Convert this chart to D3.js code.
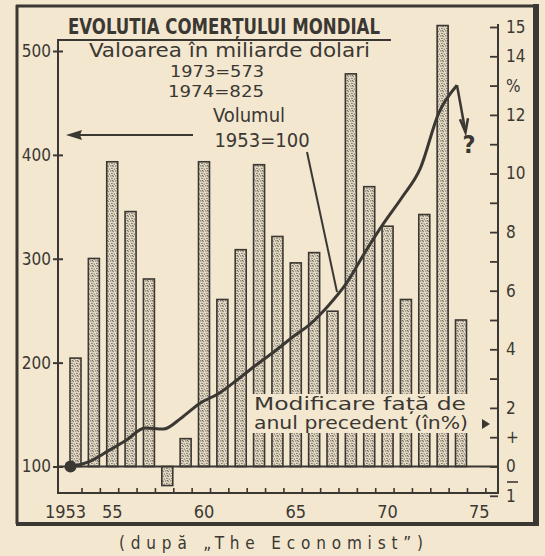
<!doctype html>
<html>
<head>
<meta charset="utf-8">
<script src="https://d3js.org/d3.v7.min.js"></script>
<style>
  body { margin: 0; background: #f3e7d0; }
  svg { display: block; }
  text { fill: #3b3833; font-family: "DejaVu Sans Condensed", "Liberation Sans Narrow", sans-serif; }
</style>
</head>
<body>
<svg width="545" height="556"></svg>
<script>
// years on the x axis (bars = change vs previous year, line = volume index)
const years = [1953, 1954, 1955, 1956, 1957, 1958, 1959, 1960, 1961, 1962, 1963,
               1964, 1965, 1966, 1967, 1968, 1969, 1970, 1971, 1972, 1973, 1974];
const changePct = [3.7, 7.1, 10.4, 8.7, 6.4, -0.65, 0.95, 10.4, 5.7, 7.4, 10.3,
                   7.85, 6.95, 7.3, 5.3, 13.4, 9.55, 8.2, 5.7, 8.6, 15.05, 5.0];
const volumeIdx = [100, 105, 115, 125.5, 137, 136, 147, 161, 170, 183, 197,
                   210, 224, 237, 255, 277, 306.5, 334, 359, 387, 440, 467];

const leftTicks = [100, 200, 300, 400, 500];
const rightTicks = [-1, 0, 1, 2, 3, 4, 5, 6, 7, 8, 9, 10, 11, 12, 13, 14, 15];
const rightLabels = {"-1": "1", 0: "0", 1: "+", 2: "2", 4: "4", 6: "6", 8: "8",
                     10: "10", 12: "12", 13: "%", 14: "14", 15: "15"};
const xTickYears = [1953, 1954, 1955, 1956, 1957, 1958, 1959, 1960, 1961, 1962, 1963, 1964,
                    1965, 1966, 1967, 1968, 1969, 1970, 1971, 1972, 1973, 1974, 1975];
const xLabelYears = [1953, 1955, 1960, 1965, 1970, 1975];
const xLabelText = ["1953", "55", "60", "65", "70", "75"];

const ink = "#3b3833";
const paper = "#f3e7d0";

const svg = d3.select("svg");

const x = d3.scaleLinear().domain([1953, 1974]).range([75.5, 461]);
const yL = d3.scaleLinear().domain([100, 500]).range([466.5, 51]);
const yR = d3.scaleLinear().domain([0, 15]).range([466.5, 27]);

// stipple pattern for the bars
const defs = svg.append("defs");
const pat = defs.append("pattern")
  .attr("id", "stip")
  .attr("patternUnits", "userSpaceOnUse")
  .attr("width", 5).attr("height", 5);
pat.append("rect").attr("width", 5).attr("height", 5).attr("fill", "#e6dcc6");
[[0.8, 0.9], [3.2, 1.6], [1.9, 3.4], [4.3, 4.1], [2.6, 0.2]].forEach(p => {
  pat.append("circle").attr("cx", p[0]).attr("cy", p[1]).attr("r", 0.7).attr("fill", "#615b52");
});

// outer frame
svg.append("line").attr("x1", 17).attr("y1", 5).attr("x2", 17).attr("y2", 524)
  .attr("stroke", ink).attr("stroke-width", 3);
svg.append("line").attr("x1", 16).attr("y1", 6).attr("x2", 538).attr("y2", 6)
  .attr("stroke", ink).attr("stroke-width", 3);
svg.append("line").attr("x1", 536).attr("y1", 4).attr("x2", 536).attr("y2", 526)
  .attr("stroke", ink).attr("stroke-width", 6);
svg.append("line").attr("x1", 16).attr("y1", 524).attr("x2", 539).attr("y2", 524)
  .attr("stroke", ink).attr("stroke-width", 4);

// bars
const barW = 11;
svg.append("g").selectAll("rect")
  .data(years.map((yr, i) => ({yr, v: changePct[i]})))
  .join("rect")
    .attr("x", d => x(d.yr) - barW / 2)
    .attr("width", barW)
    .attr("y", d => Math.min(yR(d.v), yR(0)))
    .attr("height", d => Math.abs(yR(d.v) - yR(0)))
    .attr("fill", "url(#stip)")
    .attr("stroke", ink)
    .attr("stroke-width", 1.6);

// paper band behind the bar label
svg.append("rect").attr("x", 249).attr("y", 394).attr("width", 224).attr("height", 39)
  .attr("fill", paper);

// inner frame / axes
const g = svg.append("g").attr("stroke", ink).attr("stroke-width", 2);
g.append("line").attr("x1", 58).attr("y1", 40).attr("x2", 58).attr("y2", 494);
g.append("line").attr("x1", 57).attr("y1", 493).attr("x2", 499).attr("y2", 493);
g.append("line").attr("x1", 498).attr("y1", 24).attr("x2", 498).attr("y2", 494);
g.append("line").attr("x1", 57).attr("y1", 40).attr("x2", 391).attr("y2", 40);
g.append("line").attr("x1", 58).attr("y1", yR(0)).attr("x2", 498).attr("y2", yR(0));

// left axis
const axL = svg.append("g").attr("transform", "translate(58,0)")
  .call(d3.axisLeft(yL).tickValues(leftTicks).tickSize(5).tickPadding(2));
axL.select(".domain").remove();
axL.selectAll(".tick line").attr("x1", 5).attr("x2", -5).attr("stroke", ink).attr("stroke-width", 2);
axL.selectAll(".tick text").attr("font-size", 17).attr("fill", ink)
  .attr("font-family", "DejaVu Sans Condensed, sans-serif");

// right axis
const axR = svg.append("g").attr("transform", "translate(498,0)")
  .call(d3.axisRight(yR).tickValues(rightTicks).tickSizeInner(-8).tickSizeOuter(0).tickPadding(8)
    .tickFormat(d => rightLabels[d] || ""));
axR.select(".domain").remove();
axR.selectAll(".tick line").attr("stroke", ink).attr("stroke-width", 1.8);
axR.selectAll(".tick text").attr("font-size", 17).attr("fill", ink)
  .attr("font-family", "DejaVu Sans Condensed, sans-serif");
svg.append("line").attr("x1", 507).attr("x2", 518).attr("y1", 482).attr("y2", 482)
  .attr("stroke", ink).attr("stroke-width", 1.6);

// bottom axis
const axB = svg.append("g").attr("transform", "translate(6,493)")
  .call(d3.axisBottom(x).tickValues(xTickYears).tickSizeInner(-5).tickSizeOuter(0).tickFormat(""));
axB.select(".domain").remove();
axB.selectAll(".tick line").attr("stroke", ink).attr("stroke-width", 1.6);
svg.append("g").selectAll("text")
  .data(xLabelYears.map((yr, i) => ({yr, t: xLabelText[i]})))
  .join("text")
    .attr("x", d => x(d.yr) + (d.yr === 1953 ? -10 : 0))
    .attr("y", 518)
    .attr("text-anchor", "middle")
    .attr("font-size", 18)
    .text(d => d.t);

// volume line
const lineData = years.map((yr, i) => ({yr, v: volumeIdx[i]}));
const line = d3.line()
  .x(d => x(d.yr) - 4)
  .y(d => yL(d.v))
  .curve(d3.curveMonotoneX);
svg.append("path").datum(lineData)
  .attr("d", line)
  .attr("fill", "none")
  .attr("stroke", ink)
  .attr("stroke-width", 3)
  .attr("stroke-linejoin", "round");
svg.append("circle").attr("cx", x(1953) - 5).attr("cy", yL(100)).attr("r", 6).attr("fill", ink);

// arrow from the last point down to the "?"
const last = lineData[lineData.length - 1];
const lx = x(last.yr) - 4, ly = yL(last.v);
svg.append("path")
  .attr("d", `M${lx},${ly} L${lx + 8},${ly + 44}`)
  .attr("stroke", ink).attr("stroke-width", 2.5).attr("fill", "none");
svg.append("path")
  .attr("d", `M${lx + 3},${ly + 34} L${lx + 8.5},${ly + 47} L${lx + 11},${ly + 33}`)
  .attr("stroke", ink).attr("stroke-width", 2.5).attr("fill", "none");
svg.append("text").attr("x", 469).attr("y", 153).attr("text-anchor", "middle")
  .attr("font-size", 25).attr("font-weight", "bold").text("?");

// texts
svg.append("text").attr("x", 68).attr("y", 34)
  .attr("font-size", 22).attr("font-weight", "bold")
  .attr("textLength", 312).attr("lengthAdjust", "spacingAndGlyphs")
  .text("EVOLUTIA COMERȚULUI MONDIAL");
svg.append("text").attr("x", 89).attr("y", 57)
  .attr("font-size", 19)
  .attr("textLength", 281).attr("lengthAdjust", "spacingAndGlyphs")
  .text("Valoarea în miliarde dolari");
svg.append("text").attr("x", 170).attr("y", 77)
  .attr("font-size", 16).attr("textLength", 94).attr("lengthAdjust", "spacingAndGlyphs")
  .text("1973=573");
svg.append("text").attr("x", 168).attr("y", 97)
  .attr("font-size", 16).attr("textLength", 96).attr("lengthAdjust", "spacingAndGlyphs")
  .text("1974=825");
svg.append("text").attr("x", 249).attr("y", 122).attr("text-anchor", "middle")
  .attr("font-size", 20).text("Volumul");
svg.append("text").attr("x", 262).attr("y", 147).attr("text-anchor", "middle")
  .attr("font-size", 20).text("1953=100");

// left arrow
svg.append("line").attr("x1", 193).attr("y1", 135).attr("x2", 75).attr("y2", 135)
  .attr("stroke", ink).attr("stroke-width", 1.8);
svg.append("path").attr("d", "M66,135 L82,130 L80,135 L82,140 Z").attr("fill", ink);

// pointer from "Volumul" to the line
svg.append("line").attr("x1", 307).attr("y1", 152).attr("x2", 337).attr("y2", 292)
  .attr("stroke", ink).attr("stroke-width", 2);

// bar label
svg.append("text").attr("x", 254).attr("y", 410)
  .attr("font-size", 17).attr("textLength", 212).attr("lengthAdjust", "spacingAndGlyphs")
  .text("Modificare față de");
svg.append("text").attr("x", 254).attr("y", 429)
  .attr("font-size", 17).attr("textLength", 214).attr("lengthAdjust", "spacingAndGlyphs")
  .text("anul precedent (în%)");
svg.append("path").attr("d", "M482,419 L490,424 L482,429 Z").attr("fill", ink);

// source
svg.append("text").attr("x", 271).attr("y", 549).attr("text-anchor", "middle")
  .attr("font-family", "Liberation Serif, DejaVu Serif, serif")
  .attr("font-size", 17)
  .attr("textLength", 304).attr("lengthAdjust", "spacing")
  .text("(după „The Economist”)");
</script>
</body>
</html>
